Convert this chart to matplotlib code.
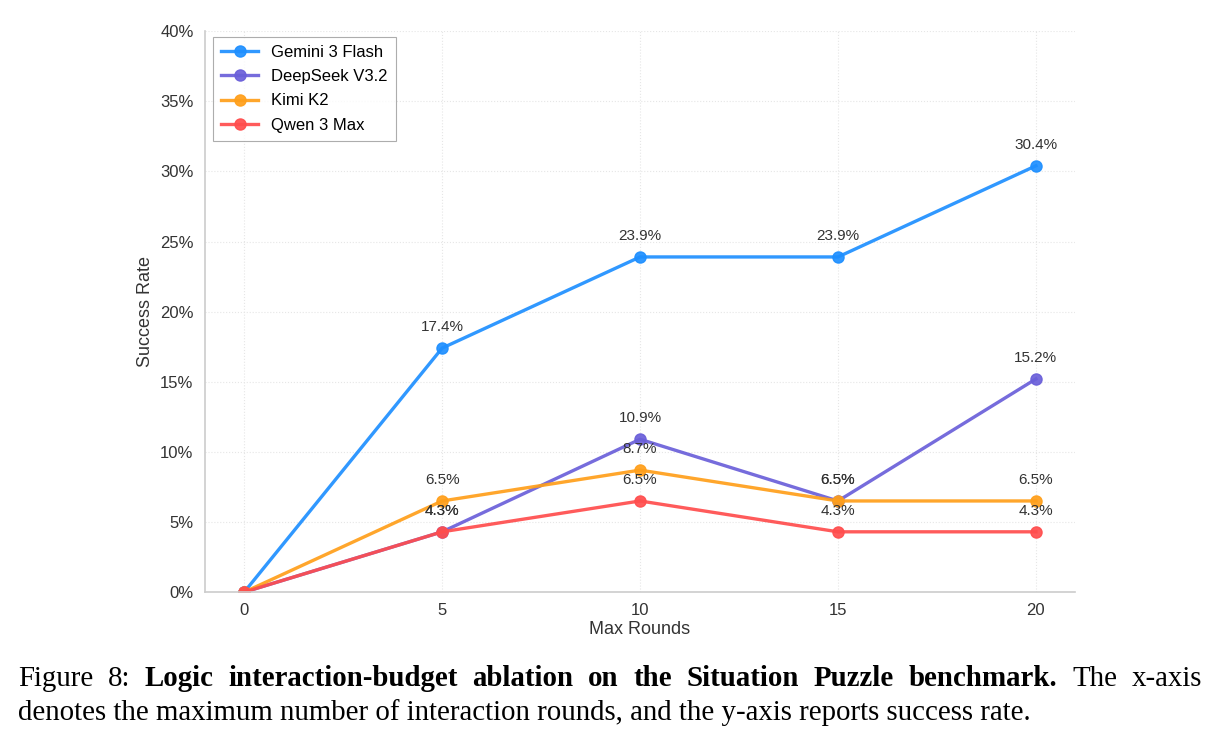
import matplotlib
matplotlib.use("Agg")
import matplotlib.pyplot as plt
from matplotlib.ticker import FuncFormatter

rounds = [0, 5, 10, 15, 20]
models = ["Gemini 3 Flash", "DeepSeek V3.2", "Kimi K2", "Qwen 3 Max"]
gemini = [0.0, 17.4, 23.9, 23.9, 30.4]
deepseek = [0.0, 4.3, 10.9, 6.5, 15.2]
kimi = [0.0, 6.5, 8.7, 6.5, 6.5]
qwen = [0.0, 4.3, 6.5, 4.3, 4.3]
series = [gemini, deepseek, kimi, qwen]
colors = ["#1E8FFF", "#6A5FD9", "#FF9F1A", "#FF4D4D"]

caption_line1 = [("Figure", "normal"), ("8:", "normal")] + \
    [(w, "bold") for w in "Logic interaction-budget ablation on the Situation Puzzle benchmark.".split()] + \
    [("The", "normal"), ("x-axis", "normal")]
caption_line2 = "denotes the maximum number of interaction rounds, and the y-axis reports success rate."

plt.rcParams["font.family"] = ["Liberation Sans", "DejaVu Sans"]

fig = plt.figure(figsize=(12.18, 7.42), dpi=100)
ax = fig.add_axes([0.168, 0.202, 0.715, 0.756])

for name, vals, c in zip(models, series, colors):
    ax.plot(rounds, vals, "-o", color=c, label=name, linewidth=2.4,
            markersize=8, alpha=0.92)
    for x, y in zip(rounds, vals):
        if x == 0:
            continue
        ax.annotate(f"{y:.1f}%", (x, y), textcoords="offset points",
                    xytext=(0, 10), ha="center", va="bottom",
                    fontsize=11, color="#333333")

ax.set_xlim(-1, 21)
ax.set_ylim(0, 40)
ax.set_xticks(rounds)
ax.set_yticks(range(0, 41, 5))
ax.yaxis.set_major_formatter(FuncFormatter(lambda v, p: f"{v:.0f}%"))
ax.tick_params(labelsize=12, colors="#333333", length=0, pad=8)
ax.set_xlabel("Max Rounds", fontsize=13, color="#333333", labelpad=2)
ax.set_ylabel("Success Rate", fontsize=13, color="#333333", labelpad=4)
ax.grid(True, linestyle=":", color="#e6e6e6", linewidth=0.8)
for s in ["top", "right"]:
    ax.spines[s].set_visible(False)
for s in ["left", "bottom"]:
    ax.spines[s].set_color("#cccccc")
    ax.spines[s].set_linewidth(1.2)

leg = ax.legend(loc="upper left", fontsize=12, frameon=True, fancybox=False,
                edgecolor="#999999", borderpad=0.5, handlelength=2.2,
                labelspacing=0.55, bbox_to_anchor=(0.0, 1.005))
leg.get_frame().set_linewidth(0.8)

# caption, first line justified like the LaTeX original
cap_font = ["Liberation Serif", "DejaVu Serif"]
cap_size = 20.8
renderer = fig.canvas.get_renderer()
W = fig.bbox.width
left, right = 18 / W, 1202 / W
texts = [fig.text(0, 0.0755, w, fontsize=cap_size, family=cap_font,
                  weight=wt, va="baseline") for w, wt in caption_line1]
widths = [t.get_window_extent(renderer).width / W for t in texts]
gap = (right - left - sum(widths)) / (len(texts) - 1)
xpos = left
for t, w in zip(texts, widths):
    t.set_x(xpos)
    xpos += w + gap
fig.text(left, 0.030, caption_line2, fontsize=cap_size, family=cap_font, va="baseline")

fig.savefig("out.png", dpi=100)
